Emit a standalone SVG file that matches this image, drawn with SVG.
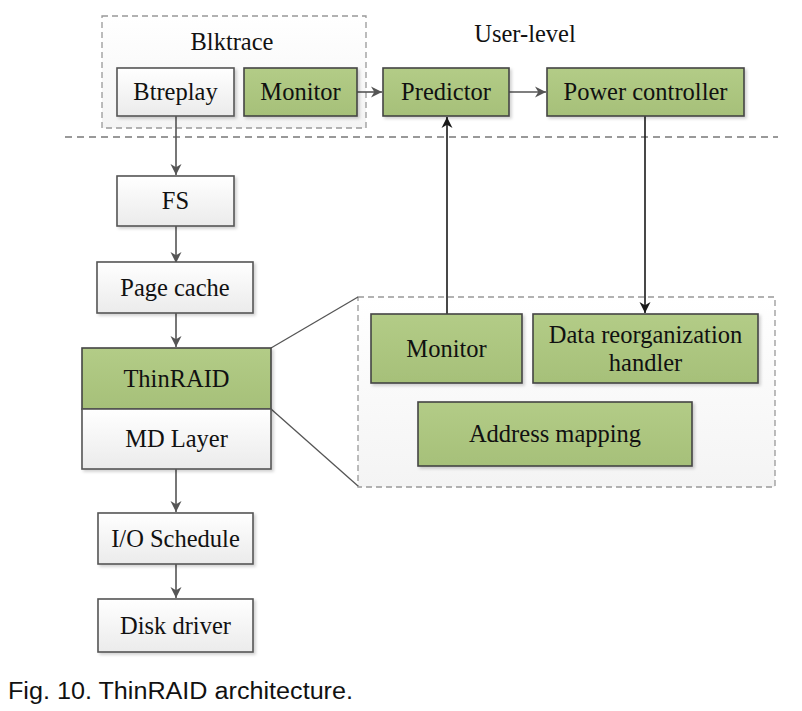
<svg xmlns="http://www.w3.org/2000/svg" width="802" height="711" viewBox="0 0 802 711">
<defs>
<linearGradient id="gw" x1="0" y1="0" x2="0" y2="1"><stop offset="0" stop-color="#ffffff"/><stop offset="1" stop-color="#ebebeb"/></linearGradient>
<linearGradient id="gg" x1="0" y1="0" x2="0" y2="1"><stop offset="0" stop-color="#b3cc87"/><stop offset="1" stop-color="#a6c079"/></linearGradient>
<linearGradient id="gb" x1="0" y1="0" x2="0" y2="1"><stop offset="0" stop-color="#ffffff"/><stop offset="1" stop-color="#f4f4f4"/></linearGradient>
<filter id="sh" x="-10%" y="-10%" width="125%" height="130%"><feDropShadow dx="2" dy="2" stdDeviation="1.5" flood-color="#000" flood-opacity="0.18"/></filter>
<marker id="ag" viewBox="0 0 10 10" refX="10" refY="5" markerWidth="13" markerHeight="11" markerUnits="userSpaceOnUse" orient="auto" overflow="visible"><path d="M0,0 L10,5 L0,10 L3,5 Z" fill="#555"/></marker>
<marker id="ab" viewBox="0 0 10 10" refX="10" refY="5" markerWidth="13" markerHeight="11" markerUnits="userSpaceOnUse" orient="auto" overflow="visible"><path d="M0,0 L10,5 L0,10 L3,5 Z" fill="#1a1a1a"/></marker>
</defs>
<style>
.t{font-family:"Liberation Serif","Times New Roman",serif;font-size:24.5px;fill:#111;text-anchor:middle}
.w{fill:url(#gw);stroke:#555;stroke-width:1.6;filter:url(#sh)}
.g{fill:url(#gg);stroke:#444;stroke-width:1.6;filter:url(#sh)}
.d{fill:url(#gb);stroke:#999;stroke-width:1.3;stroke-dasharray:6 4}
.cg{stroke:#555;stroke-width:1.6;fill:none}
.cb{stroke:#1a1a1a;stroke-width:1.6;fill:none}
</style>
<rect width="802" height="711" fill="#ffffff"/>

<g id="blktrace-group">
<rect class="d" x="102" y="16" width="264" height="112"/>
<text class="t" x="232" y="50">Blktrace</text>
</g>
<text class="t" x="525" y="42">User-level</text>
<line x1="65" y1="137" x2="778" y2="137" stroke="#999" stroke-width="2" stroke-dasharray="7 5"/>

<g id="detail-group">
<rect class="d" x="358" y="297" width="417" height="190"/>
</g>

<g id="connectors">
<line class="cg" x1="176" y1="116" x2="176" y2="175" marker-end="url(#ag)"/>
<line class="cg" x1="176" y1="226" x2="176" y2="263" marker-end="url(#ag)"/>
<line class="cg" x1="176" y1="313" x2="176" y2="347" marker-end="url(#ag)"/>
<line class="cg" x1="176" y1="469" x2="176" y2="512" marker-end="url(#ag)"/>
<line class="cg" x1="176" y1="564" x2="176" y2="598" marker-end="url(#ag)"/>
<line class="cg" x1="357" y1="92" x2="382" y2="92" marker-end="url(#ag)"/>
<line class="cg" x1="509" y1="92" x2="546" y2="92" marker-end="url(#ag)"/>
<line class="cb" x1="447" y1="314" x2="447" y2="117" marker-end="url(#ab)"/>
<line class="cb" x1="645" y1="116" x2="645" y2="313" marker-end="url(#ab)"/>
<line x1="271" y1="348" x2="358" y2="297" stroke="#555" stroke-width="1.3"/>
<line x1="271" y1="409" x2="358" y2="486" stroke="#555" stroke-width="1.3"/>
</g>

<g id="btreplay"><rect class="w" x="117" y="68" width="117" height="48"/><text class="t" x="175.5" y="100">Btreplay</text></g>
<g id="monitor-top"><rect class="g" x="244" y="68" width="113" height="48"/><text class="t" x="300.5" y="100">Monitor</text></g>
<g id="predictor"><rect class="g" x="383" y="68" width="126" height="48"/><text class="t" x="446" y="100">Predictor</text></g>
<g id="power-controller"><rect class="g" x="547" y="68" width="197" height="48"/><text class="t" x="645.5" y="100">Power controller</text></g>

<g id="fs"><rect class="w" x="117" y="176" width="117" height="50"/><text class="t" x="175.5" y="209">FS</text></g>
<g id="page-cache"><rect class="w" x="97" y="262" width="156" height="51"/><text class="t" x="175" y="296">Page cache</text></g>
<g id="thinraid"><rect class="g" x="82" y="348" width="189" height="61"/><text class="t" x="176.5" y="387">ThinRAID</text></g>
<g id="md-layer"><rect class="w" x="82" y="409" width="189" height="60"/><text class="t" x="176.5" y="447">MD Layer</text></g>
<g id="io-schedule"><rect class="w" x="98" y="513" width="155" height="51"/><text class="t" x="175.5" y="547">I/O Schedule</text></g>
<g id="disk-driver"><rect class="w" x="98" y="599" width="155" height="53"/><text class="t" x="175.5" y="634">Disk driver</text></g>

<g id="monitor-inner"><rect class="g" x="371" y="314" width="151" height="69"/><text class="t" x="446.5" y="357">Monitor</text></g>
<g id="data-reorg"><rect class="g" x="533" y="314" width="225" height="69"/><text class="t" x="645.5" y="343">Data reorganization</text><text class="t" x="645.5" y="371">handler</text></g>
<g id="address-mapping"><rect class="g" x="418" y="402" width="274" height="64"/><text class="t" x="555" y="442">Address mapping</text></g>

<text x="8" y="699" font-family="Liberation Sans, Arial, sans-serif" font-size="23" fill="#111" textLength="345" lengthAdjust="spacingAndGlyphs">Fig. 10. ThinRAID architecture.</text>
</svg>
